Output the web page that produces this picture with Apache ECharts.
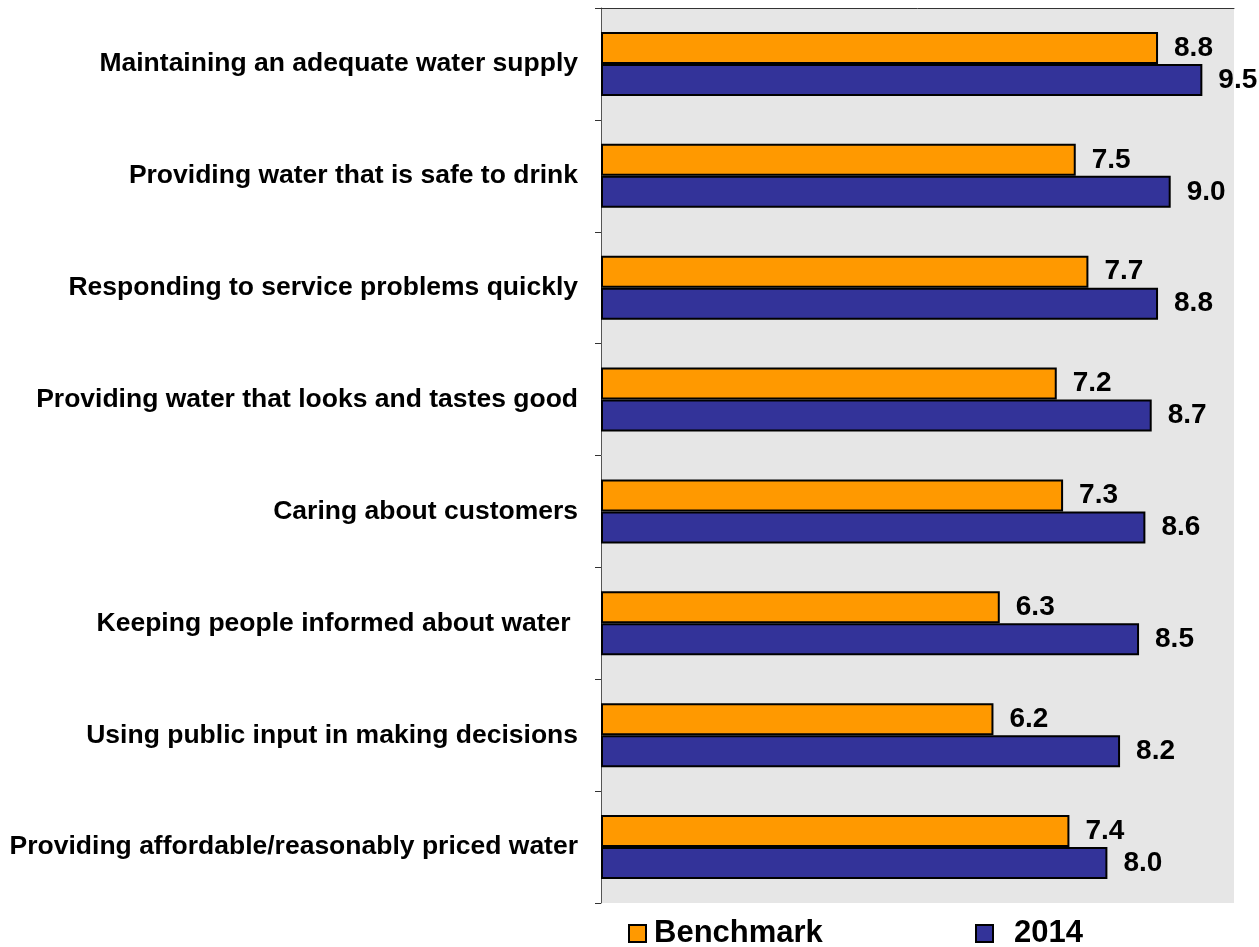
<!DOCTYPE html>
<html>
<head>
<meta charset="utf-8">
<script src="https://cdn.jsdelivr.net/npm/echarts@6/dist/echarts.min.js"></script>
<style>
html,body{margin:0;padding:0;background:#fff;}
#chart{width:1259px;height:947px;}
</style>
</head>
<body>
<div id="chart"></div>
<script>
const categories = [
  'Maintaining an adequate water supply',
  'Providing water that is safe to drink',
  'Responding to service problems quickly',
  'Providing water that looks and tastes good',
  'Caring about customers',
  'Keeping people informed about water ',
  'Using public input in making decisions',
  'Providing affordable/reasonably priced water'
];
const benchmark = [8.8, 7.5, 7.7, 7.2, 7.3, 6.3, 6.2, 7.4];
const y2014 = [9.5, 9.0, 8.8, 8.7, 8.6, 8.5, 8.2, 8.0];
const seriesNames = ['Benchmark', '2014'];

const FONT = '"Liberation Sans", Arial, sans-serif';
const chart = echarts.init(document.getElementById('chart'), null, {renderer: 'canvas'});

const labelCfg = {
  show: true,
  position: 'right',
  distance: 16,
  color: '#000',
  fontWeight: 'bold',
  fontSize: 28,
  fontFamily: FONT,
  formatter: p => p.value.toFixed(1)
};

chart.setOption({
  animation: false,
  backgroundColor: '#fff',
  grid: {
    left: 601, right: 25, top: 8, bottom: 44,
    show: true, backgroundColor: '#e6e6e6', borderWidth: 0
  },
  legend: [
    {
      data: [seriesNames[0]],
      left: 628, top: 918, padding: 0,
      icon: 'rect',
      itemWidth: 17, itemHeight: 17,
      textStyle: {fontSize: 31, fontWeight: 'bold', fontFamily: FONT, color: '#000', padding: [0,0,0,3]},
      selectedMode: false
    },
    {
      data: [seriesNames[1]],
      left: 975, top: 918, padding: 0,
      icon: 'rect',
      itemWidth: 17, itemHeight: 17,
      textStyle: {fontSize: 31, fontWeight: 'bold', fontFamily: FONT, color: '#000', padding: [0,0,0,16]},
      selectedMode: false
    }
  ],
  xAxis: {
    type: 'value',
    min: 0, max: 10,
    position: 'top',
    axisLine: {show: true, lineStyle: {color: '#333', width: 1}},
    axisTick: {show: false},
    axisLabel: {show: false},
    splitLine: {show: false}
  },
  yAxis: {
    type: 'category',
    inverse: true,
    data: categories,
    axisLine: {show: true, lineStyle: {color: '#555', width: 1}},
    axisTick: {show: true, length: 6, lineStyle: {color: '#333'}},
    axisLabel: {
      fontSize: 26.5, fontWeight: 'bold', fontFamily: FONT, color: '#000', margin: 23
    },
    splitLine: {show: false}
  },
  series: [
    {
      name: seriesNames[0], type: 'bar', data: benchmark,
      barWidth: 32, barGap: '0%',
      itemStyle: {color: '#FF9900', borderColor: '#000', borderWidth: 2},
      label: labelCfg
    },
    {
      name: seriesNames[1], type: 'bar', data: y2014,
      barWidth: 32, barGap: '0%',
      itemStyle: {color: '#333399', borderColor: '#000', borderWidth: 2},
      label: labelCfg
    }
  ]
});
</script>
</body>
</html>
